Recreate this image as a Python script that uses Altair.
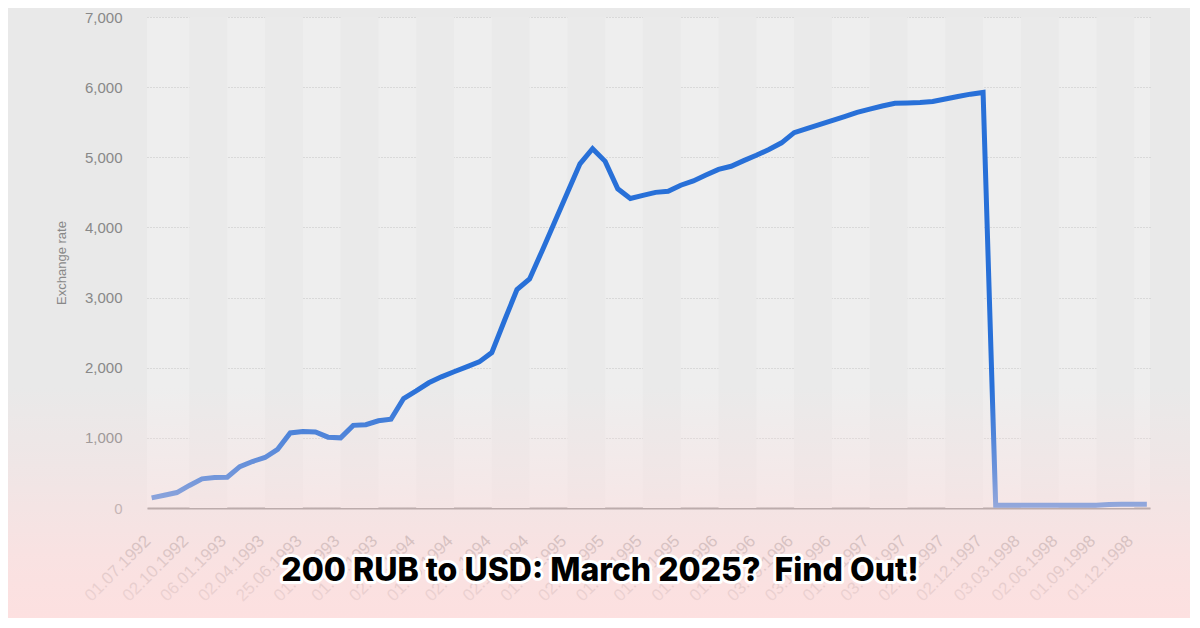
import altair as alt
import pandas as pd

# Exchange rate, roughly monthly points (index 0 = 01.07.1992)
rates = [144, 182, 220, 322, 416, 435, 439, 589, 663, 720,
         837, 1070, 1090, 1084, 1010, 1000, 1178, 1188, 1244, 1267,
         1561, 1669, 1785, 1870, 1942, 2011, 2083, 2216, 2670, 3114,
         3266, 3669, 4081, 4494, 4907, 5123, 4942, 4550, 4412, 4457,
         4500, 4516, 4602, 4663, 4746, 4827, 4872, 4952, 5029, 5112,
         5206, 5351, 5410, 5466, 5523, 5580, 5640, 5687, 5731, 5769,
         5775, 5780, 5795, 5830, 5866, 5900, 5925, 40, 40, 40,
         40, 40, 40, 40, 40, 40, 50, 52, 54, 55]

# every third point carries a date label
tick_labels = ["01.07.1992", "02.10.1992", "06.01.1993", "02.04.1993", "25.06.1993",
               "01.09.1993", "01.12.1993", "02.03.1994", "01.06.1994", "02.09.1994",
               "02.12.1994", "01.03.1995", "02.06.1995", "01.09.1995", "01.12.1995",
               "01.03.1996", "01.06.1996", "03.09.1996", "03.12.1996", "01.03.1997",
               "03.06.1997", "02.09.1997", "02.12.1997", "03.03.1998", "02.06.1998",
               "01.09.1998", "01.12.1998"]
label_step = 3
y_ticks = [0, 1000, 2000, 3000, 4000, 5000, 6000, 7000]
headline = "200 RUB to USD: March 2025?\u00a0 Find Out!"

W, H = 1003, 491
PAD = {"left": 139, "top": 9, "right": 40, "bottom": 110}

df = pd.DataFrame({"i": list(range(len(rates))), "rate": rates})
tick_idx = [k * label_step for k in range(len(tick_labels))]
stripe_starts = tick_idx[1::2]
stripes = pd.DataFrame({"start": stripe_starts,
                        "end": [s + label_step for s in stripe_starts]})

xscale = alt.Scale(domain=[-0.37, 79.25], nice=False, zero=False)
label_expr = "[" + ",".join(f"'{t}'" for t in tick_labels) + f"][round(datum.value / {label_step})]"

x_axis = alt.Axis(values=tick_idx, labelExpr=label_expr, labelAngle=-45,
                  labelAlign="right", labelBaseline="middle", labelFontSize=17,
                  labelColor="#888888", labelFont="Liberation Sans",
                  labelOverlap=False, labelFlush=False, labelPadding=30, labelOffset=-4,
                  ticks=False, grid=False, domainColor="#777777", domainWidth=2,
                  title=None)
y_axis = alt.Axis(values=y_ticks, labelExpr="format(datum.value, ',.0f')",
                  labelFontSize=15, labelColor="#888888",
                  labelFont="Liberation Sans", labelPadding=25, ticks=False,
                  domain=False, grid=True, gridColor="#c4c4c4", gridDash=[1, 2],
                  title="Exchange rate", titleFontSize=13, titleFont="Liberation Sans",
                  titleFontWeight="normal", titleColor="#888888", titlePadding=16)

stripe_layer = alt.Chart(stripes).mark_rect(color="#eaeaea").encode(
    x=alt.X("start:Q", scale=xscale, axis=x_axis),
    x2="end:Q",
    y=alt.value(0), y2=alt.value(H),
)

line_layer = alt.Chart(df).mark_line(color="#2870d8", strokeWidth=5).encode(
    x=alt.X("i:Q", scale=xscale, axis=x_axis),
    y=alt.Y("rate:Q", scale=alt.Scale(domain=[0, 7000], nice=False), axis=y_axis),
)

grad = alt.Gradient(
    gradient="linear", x1=0, y1=0, x2=0, y2=1,
    stops=[
        alt.GradientStop(offset=0.0, color="rgba(255,223,223,0)"),
        alt.GradientStop(offset=0.62, color="rgba(255,223,223,0)"),
        alt.GradientStop(offset=0.69, color="rgba(255,223,223,0.16)"),
        alt.GradientStop(offset=0.77, color="rgba(255,223,223,0.35)"),
        alt.GradientStop(offset=0.81, color="rgba(255,223,223,0.48)"),
        alt.GradientStop(offset=0.90, color="rgba(255,223,223,0.72)"),
        alt.GradientStop(offset=1.0, color="rgba(255,223,223,0.9)"),
    ],
)
one = alt.Data(values=[{"k": 1}])
overlay = alt.Chart(one).mark_rect(fill=grad).encode(
    x=alt.value(-PAD["left"]), x2=alt.value(W + PAD["right"]),
    y=alt.value(-PAD["top"]), y2=alt.value(H + PAD["bottom"]),
)

tx, ty = 600 - 147, 581 - 17
halo = alt.Chart(one).mark_text(text=headline, font="Inter", fontWeight=800, fontSize=32,
                                 align="center", baseline="alphabetic", fill="white",
                                 stroke="white", strokeWidth=6, strokeJoin="round").encode(
    x=alt.value(tx), y=alt.value(ty))
title = alt.Chart(one).mark_text(text=headline, font="Inter", fontWeight=800, fontSize=32,
                                  align="center", baseline="alphabetic", fill="black").encode(
    x=alt.value(tx), y=alt.value(ty))

chart = alt.layer(stripe_layer, line_layer, overlay, halo, title).properties(
    width=W, height=H, padding=PAD,
    autosize=alt.AutoSizeParams(type="none"),
    background="#e9e9e9",
).configure_view(stroke=None, fill="#eeeeee")

chart.save("out.html", embed_options={"renderer": "svg", "actions": False})
